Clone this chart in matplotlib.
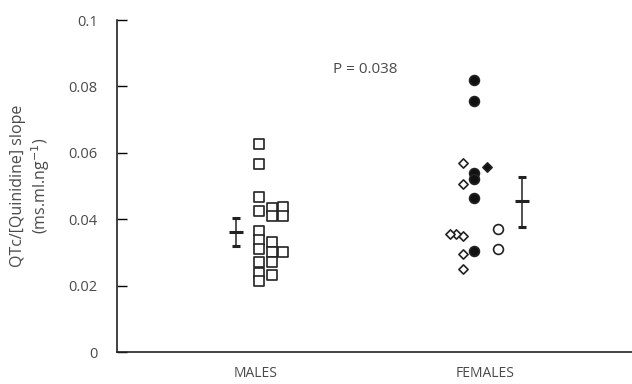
import matplotlib
matplotlib.use("Agg")
import matplotlib.pyplot as plt
import numpy as np

plt.rcParams["font.family"] = ["Open Sans", "DejaVu Sans"]

# category labels
groups = ["MALES", "FEMALES"]

# males, open squares, by column
males_col1 = [0.0626, 0.0567, 0.0467, 0.0426, 0.0365, 0.0337, 0.0311, 0.0272, 0.0237, 0.0214]
males_col2 = [0.0433, 0.0410, 0.0332, 0.0300, 0.0272, 0.0232]
males_col3 = [0.0436, 0.0410, 0.0302]

# females, by symbol
fem_filled_circles = [0.0818, 0.0757, 0.0538, 0.0521, 0.0463, 0.0305]
fem_filled_diamond = [0.0558]
fem_open_diamonds = [0.0568, 0.0505, 0.0350, 0.0294, 0.0250]
fem_open_diamonds_row = [0.0355, 0.0355]
fem_open_circles = [0.0370, 0.0311]

# mean and spread
mean_vals = [0.0362, 0.0454]
err_low = [0.0320, 0.0377]
err_high = [0.0404, 0.0528]

p_text = "P = 0.038"

text_col = "#4a4a4a"


def plot_points(ax, x, vals, marker, face, size=48, lw=1.2):
    ax.scatter(np.full(len(vals), x), vals, marker=marker, s=size,
               facecolors=face, edgecolors="#222222", linewidths=lw, zorder=3)


fig = plt.figure(figsize=(6.32, 3.84), dpi=100)
ax = fig.add_axes([117 / 632, 32 / 384, 515 / 632, 332 / 384])

# males
plot_points(ax, 1.013, males_col1, "s", "white")
plot_points(ax, 1.070, males_col2, "s", "white")
plot_points(ax, 1.118, males_col3, "s", "white")

# females
plot_points(ax, 1.953, fem_filled_circles, "o", "#111111", size=50)
plot_points(ax, 2.009, fem_filled_diamond, "D", "#111111", size=22)
plot_points(ax, 1.903, fem_open_diamonds, "D", "white", size=22)
plot_points(ax, 1.875, fem_open_diamonds_row[:1], "D", "white", size=22)
plot_points(ax, 1.847, fem_open_diamonds_row[1:], "D", "white", size=22)
plot_points(ax, 2.058, fem_open_circles, "o", "white", size=50)

# mean bars
err_x = [0.911, 2.163]
for xi, m, lo, hi in zip(err_x, mean_vals, err_low, err_high):
    ax.errorbar(xi, m, yerr=[[m - lo], [hi - m]], fmt="_", color="#222222",
                markersize=10, markeredgewidth=2.2, elinewidth=1.1,
                capsize=3, capthick=1.1, zorder=3)

ax.text(1.476, 0.0851, p_text, ha="center", va="center", fontsize=11,
        color=text_col)

ax.set_xlim(0.393, 2.642)
ax.set_ylim(0, 0.1)
ax.set_xticks([1, 2])
ax.set_xticklabels(groups, fontsize=10, color=text_col)
ax.tick_params(axis="x", length=0, pad=10)
ax.set_yticks([0, 0.02, 0.04, 0.06, 0.08, 0.1])
ax.set_yticklabels(["0", "0.02", "0.04", "0.06", "0.08", "0.1"],
                   fontsize=10.5, color=text_col)
ax.tick_params(axis="y", direction="in", length=7, width=1, pad=14)

ax.spines["right"].set_visible(False)
ax.spines["top"].set_visible(False)
for s in ["left", "bottom"]:
    ax.spines[s].set_linewidth(1.2)
    ax.spines[s].set_color("#222222")

ax.set_ylabel("QTc/[Quinidine] slope\n(ms.ml.ng$^{-1}$)", fontsize=11.5,
              color=text_col, linespacing=1.2)
ax.yaxis.set_label_coords(-0.127, 0.5)

fig.savefig("out.png", dpi=100)
